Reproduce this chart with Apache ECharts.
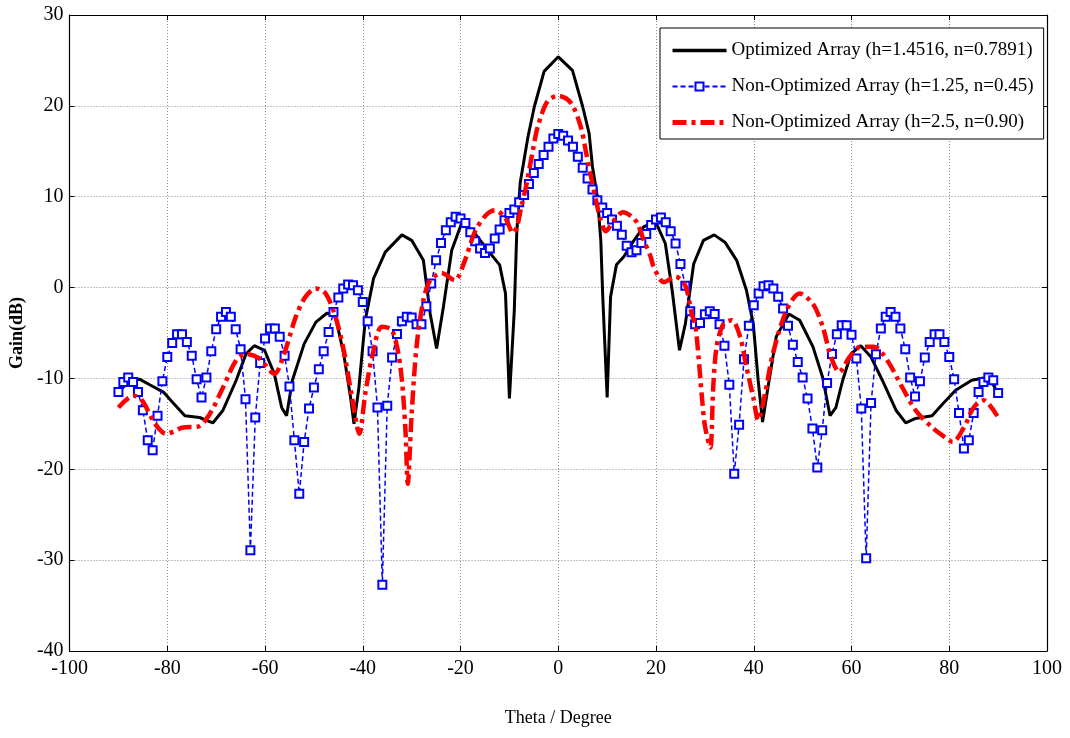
<!DOCTYPE html>
<html>
<head>
<meta charset="utf-8">
<script src="https://cdn.jsdelivr.net/npm/echarts@6/dist/echarts.min.js"></script>
<style>
html,body{margin:0;padding:0;background:#fff;}
#chart{width:1070px;height:738px;}
</style>
</head>
<body>
<div id="chart"></div>
<script>
// Series names
const seriesNames = [
  'Optimized Array (h=1.4516, n=0.7891)',
  'Non-Optimized Array (h=1.25, n=0.45)',
  'Non-Optimized Array (h=2.5, n=0.90)'
];

// Axis ticks
const xTicks = [-100, -80, -60, -40, -20, 0, 20, 40, 60, 80, 100];
const yTicks = [-40, -30, -20, -10, 0, 10, 20, 30];

// Blue series: gain sampled every 1 degree from -90 to 90
const blueStart = -90;
const blueGain = [
  -11.5, -10.4, -9.9, -10.4, -11.5, -13.5, -16.8, -17.9, -14.1, -10.3,
  -7.65, -6.1, -5.15, -5.15, -6.0, -7.5, -10.1, -12.1, -9.9, -7.0,
  -4.6, -3.2, -2.7, -3.2, -4.6, -6.8, -12.3, -28.9, -14.3, -8.3,
  -5.6, -4.5, -4.5, -5.4, -7.5, -10.9, -16.8, -22.7, -17.0, -13.3,
  -11.0, -9.0, -7.0, -4.9,
  -2.7, -1.1, -0.1, 0.33, 0.25, -0.3,
  -1.6, -3.7, -7.0, -13.2, -32.7, -13.0, -7.7, -5.1, -3.7, -3.2,
  -3.3, -4.05, -4.05, -2.06, 0.44, 3.0, 4.9, 6.3, 7.2, 7.8,
  7.6, 7.1, 6.1, 5.1, 4.3, 3.8, 4.3, 5.4, 6.4, 7.4,
  8.2, 8.6, 9.4, 10.2, 11.4, 12.6, 13.6, 14.6, 15.5, 16.4,
  16.9,
  16.7, 16.2, 15.5, 14.4, 13.2, 12.0, 10.8, 9.6, 8.8, 8.2,
  7.5, 6.8, 5.8, 4.6, 3.9, 4.1, 4.9, 5.9, 6.9, 7.5,
  7.7, 7.2, 6.2, 4.85, 2.6, 0.2, -2.6, -4.05, -3.9, -2.95,
  -2.6, -2.9, -4.05, -6.4, -10.7, -20.5, -15.1, -7.9, -4.2, -1.95,
  -0.66, 0.14, 0.25, -0.1, -1.0, -2.3, -4.2, -6.3, -8.2, -9.9,
  -12.2, -15.5, -19.8, -15.7, -10.5, -7.3, -5.15, -4.15, -4.15, -5.2,
  -7.8, -13.3, -29.8, -12.7, -7.35, -4.5, -3.2, -2.7, -3.2, -4.5,
  -6.8, -9.9, -12.0, -10.3, -7.7, -6.0, -5.15, -5.15, -6.0, -7.65,
  -10.1, -13.8, -17.7, -16.8, -13.8, -11.5, -10.4, -9.9, -10.2, -11.6
];

// Black series (optimized): theta / gain pairs
const blackTheta = [
  -90, -87.6, -85.6, -83.6, -80.8, -78.8, -76.4, -73.4, -70.7, -68.6,
  -65.9, -63.9, -62.2, -60.1, -58.1, -56.6, -55.6, -54.4, -52.0, -49.6,
  -47.3, -45.6, -43.9, -42.5, -41.8, -40.8, -39.5, -37.8, -35.4, -32.0,
  -30.0, -27.6, -26.2, -24.9, -23.5, -21.8, -19.8, -17.1, -14.4, -12.0,
  -10.8, -10.0, -9.0, -8.5, -7.8, -6.2, -4.9, -2.9, 0,
  2.9, 5.0, 6.3, 7.0, 8.0, 8.7, 9.1, 10.0, 10.7, 11.9,
  13.4, 15.5, 17.5, 19.2, 20.2, 21.9, 23.3, 24.8, 26.0, 27.7,
  29.7, 31.9, 34.1, 36.5, 38.5, 39.9, 40.9, 41.8, 42.9, 44.6,
  47.2, 49.4, 52.1, 54.1, 55.6, 56.8, 58.2, 59.9, 61.9, 64.0,
  66.3, 69.1, 71.1, 73.1, 76.5, 78.5, 81.3, 84.6, 87.6, 89.0, 90
];
const blackGain = [
  -11.5, -10.2, -10.1, -10.7, -11.5, -12.7, -14.1, -14.3, -14.9, -13.5,
  -10.2, -7.3, -6.4, -6.9, -9.5, -13.2, -14.1, -10.2, -6.2, -3.8,
  -2.8, -3.2, -7.3, -12.1, -15.0, -11.0, -3.6, 1.0, 3.9, 5.8,
  5.2, 3.0, -2.9, -6.7, -2.1, 4.1, 7.05, 6.0, 4.1, 2.5,
  -0.66, -12.2, -2.5, 6.0, 11.5, 16.6, 19.9, 23.8, 25.4,
  23.9, 19.9, 17.0, 13.3, 10.0, 5.2, -1.0, -12.1, -1.0, 2.5,
  3.4, 5.2, 6.7, 7.05, 6.9, 4.85, -0.3, -6.9, -4.0, 2.6,
  5.2, 5.8, 5.0, 3.0, -0.3, -4.0, -10.2, -14.8, -11.0, -5.4,
  -2.9, -3.6, -6.5, -9.9, -14.1, -13.2, -10.2, -7.3, -6.4, -7.65,
  -10.2, -13.5, -14.9, -14.4, -14.1, -12.9, -11.3, -10.2, -9.9, -10.7, -11.7
];

// Red series (h=2.5): theta / gain pairs
const redTheta = [
  -90, -86.9, -85.2, -82.5, -80.2, -76.8, -73.7, -71.3, -68.6, -65.9,
  -63.9, -61.2, -58.1, -56.1, -53.7, -51.7, -49.6, -47.6, -45.6, -43.9,
  -42.2, -40.7, -39.5, -38.1, -36.1, -34.0, -32.3, -31.3, -30.8, -30.0,
  -29.0, -27.6, -26.2, -23.9, -21.2, -19.1, -17.1, -15.1, -13.0, -11.0,
  -9.2, -8.4, -7.6, -6.6, -5.2, -4.2, -2.2, 0,
  2.6, 4.6, 5.6, 6.7, 7.7, 8.7, 9.7, 11.4, 13.2, 15.1,
  16.2, 17.5, 18.9, 19.5, 21.6, 24.0, 26.0, 27.3, 28.0, 28.7,
  29.4, 30.0, 31.1, 31.7, 32.4, 33.8, 35.5, 37.2, 38.5, 39.9,
  40.9, 42.3, 43.9, 46.7, 49.4, 52.1, 54.1, 55.8, 57.5, 59.6,
  61.9, 64.6, 67.3, 70.4, 73.1, 76.5, 79.2, 80.7, 83.0, 85.0, 87.0, 90
];
const redGain = [
  -13.2, -11.9, -12.4, -15.0, -16.1, -15.4, -15.3, -13.9, -11.0, -8.0,
  -7.3, -7.8, -9.5, -7.3, -3.2, -1.0, -0.1, -0.66, -3.2, -6.9,
  -12.1, -16.1, -11.7, -7.65, -4.3, -4.7, -8.75, -15.4, -21.6, -13.9,
  -6.5, -1.4, 0.8, 1.6, 0.8, 3.0, 6.1, 7.8, 8.5, 7.8,
  6.0, 6.8, 8.8, 11.1, 15.1, 17.7, 20.5, 21.1,
  20.3, 17.7, 15.1, 12.2, 9.6, 7.4, 6.2, 7.4, 8.3, 7.8,
  7.05, 5.2, 3.4, 2.3, 0.6, 1.2, 0.2, -2.9, -4.0, -7.65,
  -12.1, -15.2, -17.6, -11.0, -6.5, -4.0, -3.6, -5.4, -8.75, -12.1,
  -14.6, -11.7, -7.3, -2.5, -0.66, -1.8, -4.3, -7.65, -9.3, -7.65,
  -6.5, -6.5, -8.0, -11.0, -13.5, -15.4, -16.5, -17.0, -15.4, -13.2, -12.4, -14.3
];

const blueData = blueGain.map((g, i) => [blueStart + i, g]);
const blackData = blackTheta.map((t, i) => [t, blackGain[i]]);
const redData = redTheta.map((t, i) => [t, redGain[i]]);

const FONT = '"Liberation Serif", "Times New Roman", serif';
const chart = echarts.init(document.getElementById('chart'), null, {renderer: 'canvas'});

const gridLine = {show: true, lineStyle: {color: '#8a8a8a', type: [1, 2], width: 1}};

chart.setOption({
  animation: false,
  backgroundColor: '#ffffff',
  grid: {left: 68, right: 23, top: 15, bottom: 87, containLabel: false},
  legend: {
    orient: 'vertical',
    left: 660,
    top: 28,
    data: [
      {name: seriesNames[0], itemStyle: {opacity: 0}, lineStyle: {width: 3.5, color: '#000'}},
      {name: seriesNames[1], lineStyle: {width: 1.8, color: '#0000ff', type: [5, 3]}},
      {name: seriesNames[2], itemStyle: {opacity: 0}, lineStyle: {width: 5, color: '#ff0000', type: [14, 5, 4, 5]}}
    ],
    backgroundColor: '#ffffff',
    borderColor: '#000000',
    borderWidth: 1,
    borderRadius: 0,
    padding: [13, 10, 7, 10],
    itemGap: 17,
    itemWidth: 54,
    itemHeight: 10,
    textStyle: {fontFamily: FONT, fontSize: 19, color: '#000'}
  },
  xAxis: [{
    type: 'value', min: -100, max: 100, interval: 20,
    name: 'Theta / Degree', nameLocation: 'middle', nameGap: 58,
    nameTextStyle: {fontFamily: FONT, fontSize: 18, color: '#000'},
    axisLine: {show: true, onZero: false, lineStyle: {color: '#000', width: 1.2}},
    axisTick: {show: true, inside: true, length: 5, lineStyle: {color: '#000'}},
    axisLabel: {fontFamily: FONT, fontSize: 20, color: '#000', margin: 8,
      formatter: v => xTicks.includes(v) ? String(v) : ''},
    splitLine: gridLine
  }, {
    type: 'value', min: -100, max: 100, interval: 20, position: 'top',
    axisLine: {show: true, onZero: false, lineStyle: {color: '#000', width: 1.2}},
    axisTick: {show: true, inside: true, length: 5, lineStyle: {color: '#000'}},
    axisLabel: {show: false}, splitLine: {show: false}
  }],
  yAxis: [{
    type: 'value', min: -40, max: 30, interval: 10,
    name: 'Gain(dB)', nameLocation: 'middle', nameGap: 42,
    nameTextStyle: {fontFamily: FONT, fontSize: 18, fontWeight: 'bold', color: '#000'},
    axisLine: {show: true, onZero: false, lineStyle: {color: '#000', width: 1.2}},
    axisTick: {show: true, inside: true, length: 5, lineStyle: {color: '#000'}},
    axisLabel: {fontFamily: FONT, fontSize: 20, color: '#000', margin: 6,
      formatter: v => yTicks.includes(v) ? String(v) : ''},
    splitLine: gridLine
  }, {
    type: 'value', min: -40, max: 30, interval: 10, position: 'right',
    axisLine: {show: true, onZero: false, lineStyle: {color: '#000', width: 1.2}},
    axisTick: {show: true, inside: true, length: 5, lineStyle: {color: '#000'}},
    axisLabel: {show: false}, splitLine: {show: false}
  }],
  series: [
    {
      name: seriesNames[0], type: 'line', data: blackData,
      showSymbol: false, symbol: 'none', smooth: false,
      lineStyle: {color: '#000000', width: 3},
      itemStyle: {color: '#000000'}, z: 2
    },
    {
      name: seriesNames[1], type: 'line', data: blueData,
      symbol: 'emptyRect', symbolSize: 8, showSymbol: true, smooth: false,
      lineStyle: {color: '#0000ff', width: 1.5, type: [5, 3]},
      itemStyle: {color: '#0000ff', borderColor: '#0000ff', borderWidth: 1.8},
      z: 3
    },
    {
      name: seriesNames[2], type: 'line', data: redData,
      showSymbol: false, symbol: 'none', smooth: 0.3,
      lineStyle: {color: '#ff0000', width: 4.5, type: [14, 5, 4, 5]},
      itemStyle: {color: '#ff0000'}, z: 4
    }
  ]
});
</script>
</body>
</html>
